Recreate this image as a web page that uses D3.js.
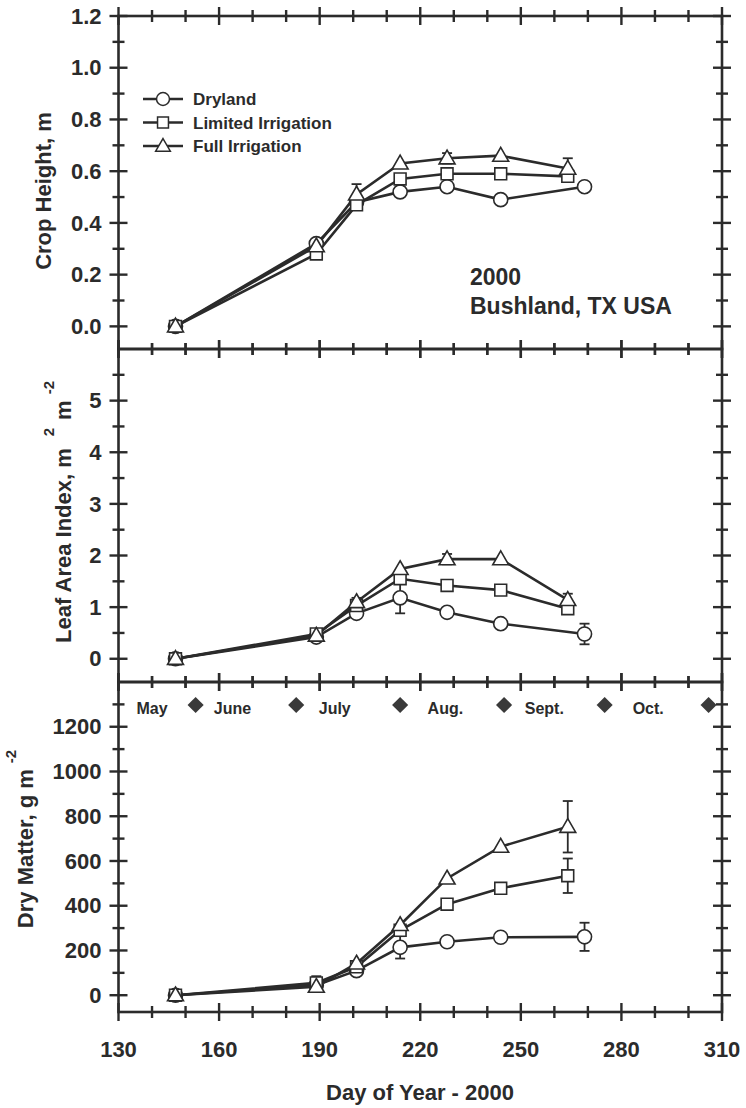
<!DOCTYPE html>
<html>
<head>
<meta charset="utf-8">
<script src="https://cdn.jsdelivr.net/npm/d3@7"></script>
<style>
  body { margin: 0; background: #fff; }
  text { font-family: "Liberation Sans", Arial, Helvetica, sans-serif; font-weight: bold; fill: #2b2b2b; }
</style>
</head>
<body>
<div id="container"></div>
<script>
// sampling days (day of year 2000); dryland last sample was a few days later
const irrDays = [147, 189, 201, 214, 228, 244, 264];
const dryDays = [147, 189, 201, 214, 228, 244, 269];

// crop height, m
const heightDry = [0, 0.32, 0.48, 0.52, 0.54, 0.49, 0.54];
const heightLim = [0, 0.28, 0.47, 0.57, 0.59, 0.59, 0.58];
const heightFull = [0, 0.31, 0.51, 0.63, 0.65, 0.66, 0.61];
const heightFullErr = [0, 0, 0.04, 0, 0.02, 0, 0.04];

// leaf area index, m2 m-2
const laiDry = [0, 0.42, 0.88, 1.18, 0.90, 0.68, 0.48];
const laiLim = [0, 0.48, 1.03, 1.55, 1.42, 1.33, 0.97];
const laiFull = [0, 0.45, 1.10, 1.74, 1.93, 1.93, 1.14];
const laiDryErr = [0, 0, 0, 0.30, 0, 0, 0.20];
const laiLimErr = [0, 0, 0, 0, 0, 0, 0.08];
const laiFullErr = [0, 0, 0.08, 0, 0.10, 0, 0.12];

// dry matter, g m-2
const dmDry = [0, 45, 110, 214, 239, 259, 261];
const dmLim = [0, 55, 127, 290, 407, 478, 534];
const dmFull = [0, 38, 142, 314, 522, 664, 753];
const dmDryErr = [0, 0, 0, 50, 0, 0, 63];
const dmLimErr = [0, 30, 0, 0, 20, 0, 77];
const dmFullErr = [0, 0, 0, 0, 0, 0, 115];

const seriesNames = ["Dryland", "Limited Irrigation", "Full Irrigation"];
const xTicksMajor = [130, 160, 190, 220, 250, 280, 310];

// month boundaries (first day of month) and label anchors
const monthStarts = [153, 183, 214, 245, 275, 306];
const monthNames = ["May", "June", "July", "Aug.", "Sept.", "Oct."];
const monthLabelDays = [140, 164, 194.5, 227.5, 257, 288];

const W = 746, H = 1108;
const ink = "#2b2b2b";

const svg = d3.select("#container").append("svg")
  .attr("width", W).attr("height", H);

const x = d3.scaleLinear().domain([130, 310]).range([118.5, 722]);
const xMinor = d3.range(140, 310, 10).filter(d => (d - 130) % 30 !== 0);

const symbols = [d3.symbolCircle, d3.symbolSquare, d3.symbolTriangle];
const symSize = [155, 140, 110];

const panels = [
  {
    y: d3.scaleLinear().domain([-0.0875, 1.2]).range([349, 16]),
    major: d3.range(0, 1.21, 0.2), minor: d3.range(0.1, 1.2, 0.2),
    fmt: d3.format(".1f"),
    data: [
      {days: dryDays, v: heightDry, e: null},
      {days: irrDays, v: heightLim, e: null},
      {days: irrDays, v: heightFull, e: heightFullErr}
    ]
  },
  {
    y: d3.scaleLinear().domain([-0.45, 6]).range([682, 349]),
    major: d3.range(0, 6, 1), minor: d3.range(0.5, 6, 1),
    fmt: d3.format("d"),
    data: [
      {days: dryDays, v: laiDry, e: laiDryErr},
      {days: irrDays, v: laiLim, e: laiLimErr},
      {days: irrDays, v: laiFull, e: laiFullErr}
    ]
  },
  {
    y: d3.scaleLinear().domain([-75, 1400]).range([1012, 682]),
    major: d3.range(0, 1201, 200), minor: d3.range(100, 1400, 200),
    fmt: d3.format("d"),
    data: [
      {days: dryDays, v: dmDry, e: dmDryErr},
      {days: irrDays, v: dmLim, e: dmLimErr},
      {days: irrDays, v: dmFull, e: dmFullErr}
    ],
    xLabels: true
  }
];

const xl = x.range()[0], xr = x.range()[1];

panels.forEach(p => {
  const g = svg.append("g");
  const [y0, y1] = p.y.range();
  const ticks = g.append("g").attr("stroke", ink).attr("stroke-width", 2.4);

  // y ticks crossing both vertical frame lines
  [[p.major, 9], [p.minor, 6]].forEach(([vals, len]) => {
    [xl, xr].forEach(xx => {
      ticks.selectAll(null).data(vals).enter().append("line")
        .attr("x1", xx - len).attr("x2", xx + len)
        .attr("y1", d => p.y(d)).attr("y2", d => p.y(d));
    });
  });
  // x ticks crossing top and bottom frame lines
  [[xTicksMajor, 9], [xMinor, 6]].forEach(([vals, len]) => {
    [y0, y1].forEach(yy => {
      ticks.selectAll(null).data(vals).enter().append("line")
        .attr("x1", d => x(d)).attr("x2", d => x(d))
        .attr("y1", yy - len).attr("y2", yy + len);
    });
  });

  // y tick labels
  g.selectAll(null).data(p.major).enter().append("text")
    .attr("x", xl - 17).attr("y", d => p.y(d)).attr("dy", "0.35em")
    .attr("text-anchor", "end").style("font-size", "22px")
    .text(p.fmt);

  if (p.xLabels) {
    g.selectAll(null).data(xTicksMajor).enter().append("text")
      .attr("x", d => x(d)).attr("y", 1057)
      .attr("text-anchor", "middle").style("font-size", "22px")
      .text(d3.format("d"));
  }

  // frame
  g.append("rect")
    .attr("x", xl).attr("y", y1)
    .attr("width", xr - xl).attr("height", y0 - y1)
    .attr("fill", "none").attr("stroke", ink).attr("stroke-width", 2.6);

  const line = d3.line().x(d => x(d.day)).y(d => p.y(d.v));
  const rows = p.data.map(s => s.days.map((day, i) => ({day, v: s.v[i], e: s.e ? s.e[i] : 0})));

  rows.forEach(r => {
    g.append("path").datum(r).attr("d", line)
      .attr("fill", "none").attr("stroke", ink).attr("stroke-width", 2.6);
  });

  // error bars
  rows.forEach(r => {
    r.filter(d => d.e > 0).forEach(d => {
      const cx = x(d.day), ya = p.y(d.v + d.e), yb = p.y(d.v - d.e);
      g.append("line").attr("x1", cx).attr("x2", cx).attr("y1", ya).attr("y2", yb)
        .attr("stroke", ink).attr("stroke-width", 1.8);
      [ya, yb].forEach(yc => g.append("line").attr("x1", cx - 5).attr("x2", cx + 5)
        .attr("y1", yc).attr("y2", yc).attr("stroke", ink).attr("stroke-width", 1.8));
    });
  });

  // markers
  rows.forEach((r, si) => {
    g.selectAll(null).data(r).enter().append("path")
      .attr("transform", d => `translate(${x(d.day)},${p.y(d.v) + (si === 2 ? 1 : 0)})`)
      .attr("d", d3.symbol().type(symbols[si]).size(symSize[si]))
      .attr("fill", "#fff").attr("stroke", ink).attr("stroke-width", 1.6);
  });
});

// legend
const legend = svg.append("g").attr("transform", "translate(143,99)");
seriesNames.forEach((name, i) => {
  const row = legend.append("g").attr("transform", `translate(0,${i * 23.5})`);
  row.append("line").attr("x1", 0).attr("x2", 40).attr("stroke", ink).attr("stroke-width", 2.4);
  row.append("path").attr("transform", `translate(20,${i === 2 ? 1 : 0})`)
    .attr("d", d3.symbol().type(symbols[i]).size(symSize[i] * 0.85))
    .attr("fill", "#fff").attr("stroke", ink).attr("stroke-width", 1.5);
  row.append("text").attr("x", 50).attr("y", 6).style("font-size", "17px").text(name);
});

// site annotation
svg.append("text").attr("x", 470).attr("y", 285).style("font-size", "23px").text("2000");
svg.append("text").attr("x", 470).attr("y", 314).style("font-size", "23px").text("Bushland, TX USA");

// month markers
svg.selectAll(".month-mark").data(monthStarts).enter().append("path")
  .attr("transform", d => `translate(${x(d)},705) rotate(45)`)
  .attr("d", d3.symbol().type(d3.symbolSquare).size(130))
  .attr("fill", "#3a3a3a");
svg.selectAll(".month-label").data(monthNames).enter().append("text")
  .attr("x", (d, i) => x(monthLabelDays[i])).attr("y", 714)
  .attr("text-anchor", "middle").style("font-size", "16px").text(d => d);

// axis titles
svg.append("text").attr("transform", "translate(51,191) rotate(-90)")
  .attr("text-anchor", "middle").style("font-size", "22px").text("Crop Height, m");

const lai = svg.append("text").attr("transform", "translate(71,512) rotate(-90)")
  .attr("text-anchor", "middle").style("font-size", "22px");
lai.append("tspan").text("Leaf Area Index, m");
lai.append("tspan").attr("dx", 12).attr("dy", -17).style("font-size", "15px").text("2");
lai.append("tspan").attr("dx", 8).attr("dy", 17).text("m");
lai.append("tspan").attr("dx", 6).attr("dy", -17).style("font-size", "15px").text("-2");

const dm = svg.append("text").attr("transform", "translate(33,839) rotate(-90)")
  .attr("text-anchor", "middle").style("font-size", "22px");
dm.append("tspan").text("Dry Matter, g m");
dm.append("tspan").attr("dx", 6).attr("dy", -17).style("font-size", "15px").text("-2");

svg.append("text").attr("x", 420).attr("y", 1100).attr("text-anchor", "middle")
  .style("font-size", "22px").text("Day of Year - 2000");
</script>
</body>
</html>
